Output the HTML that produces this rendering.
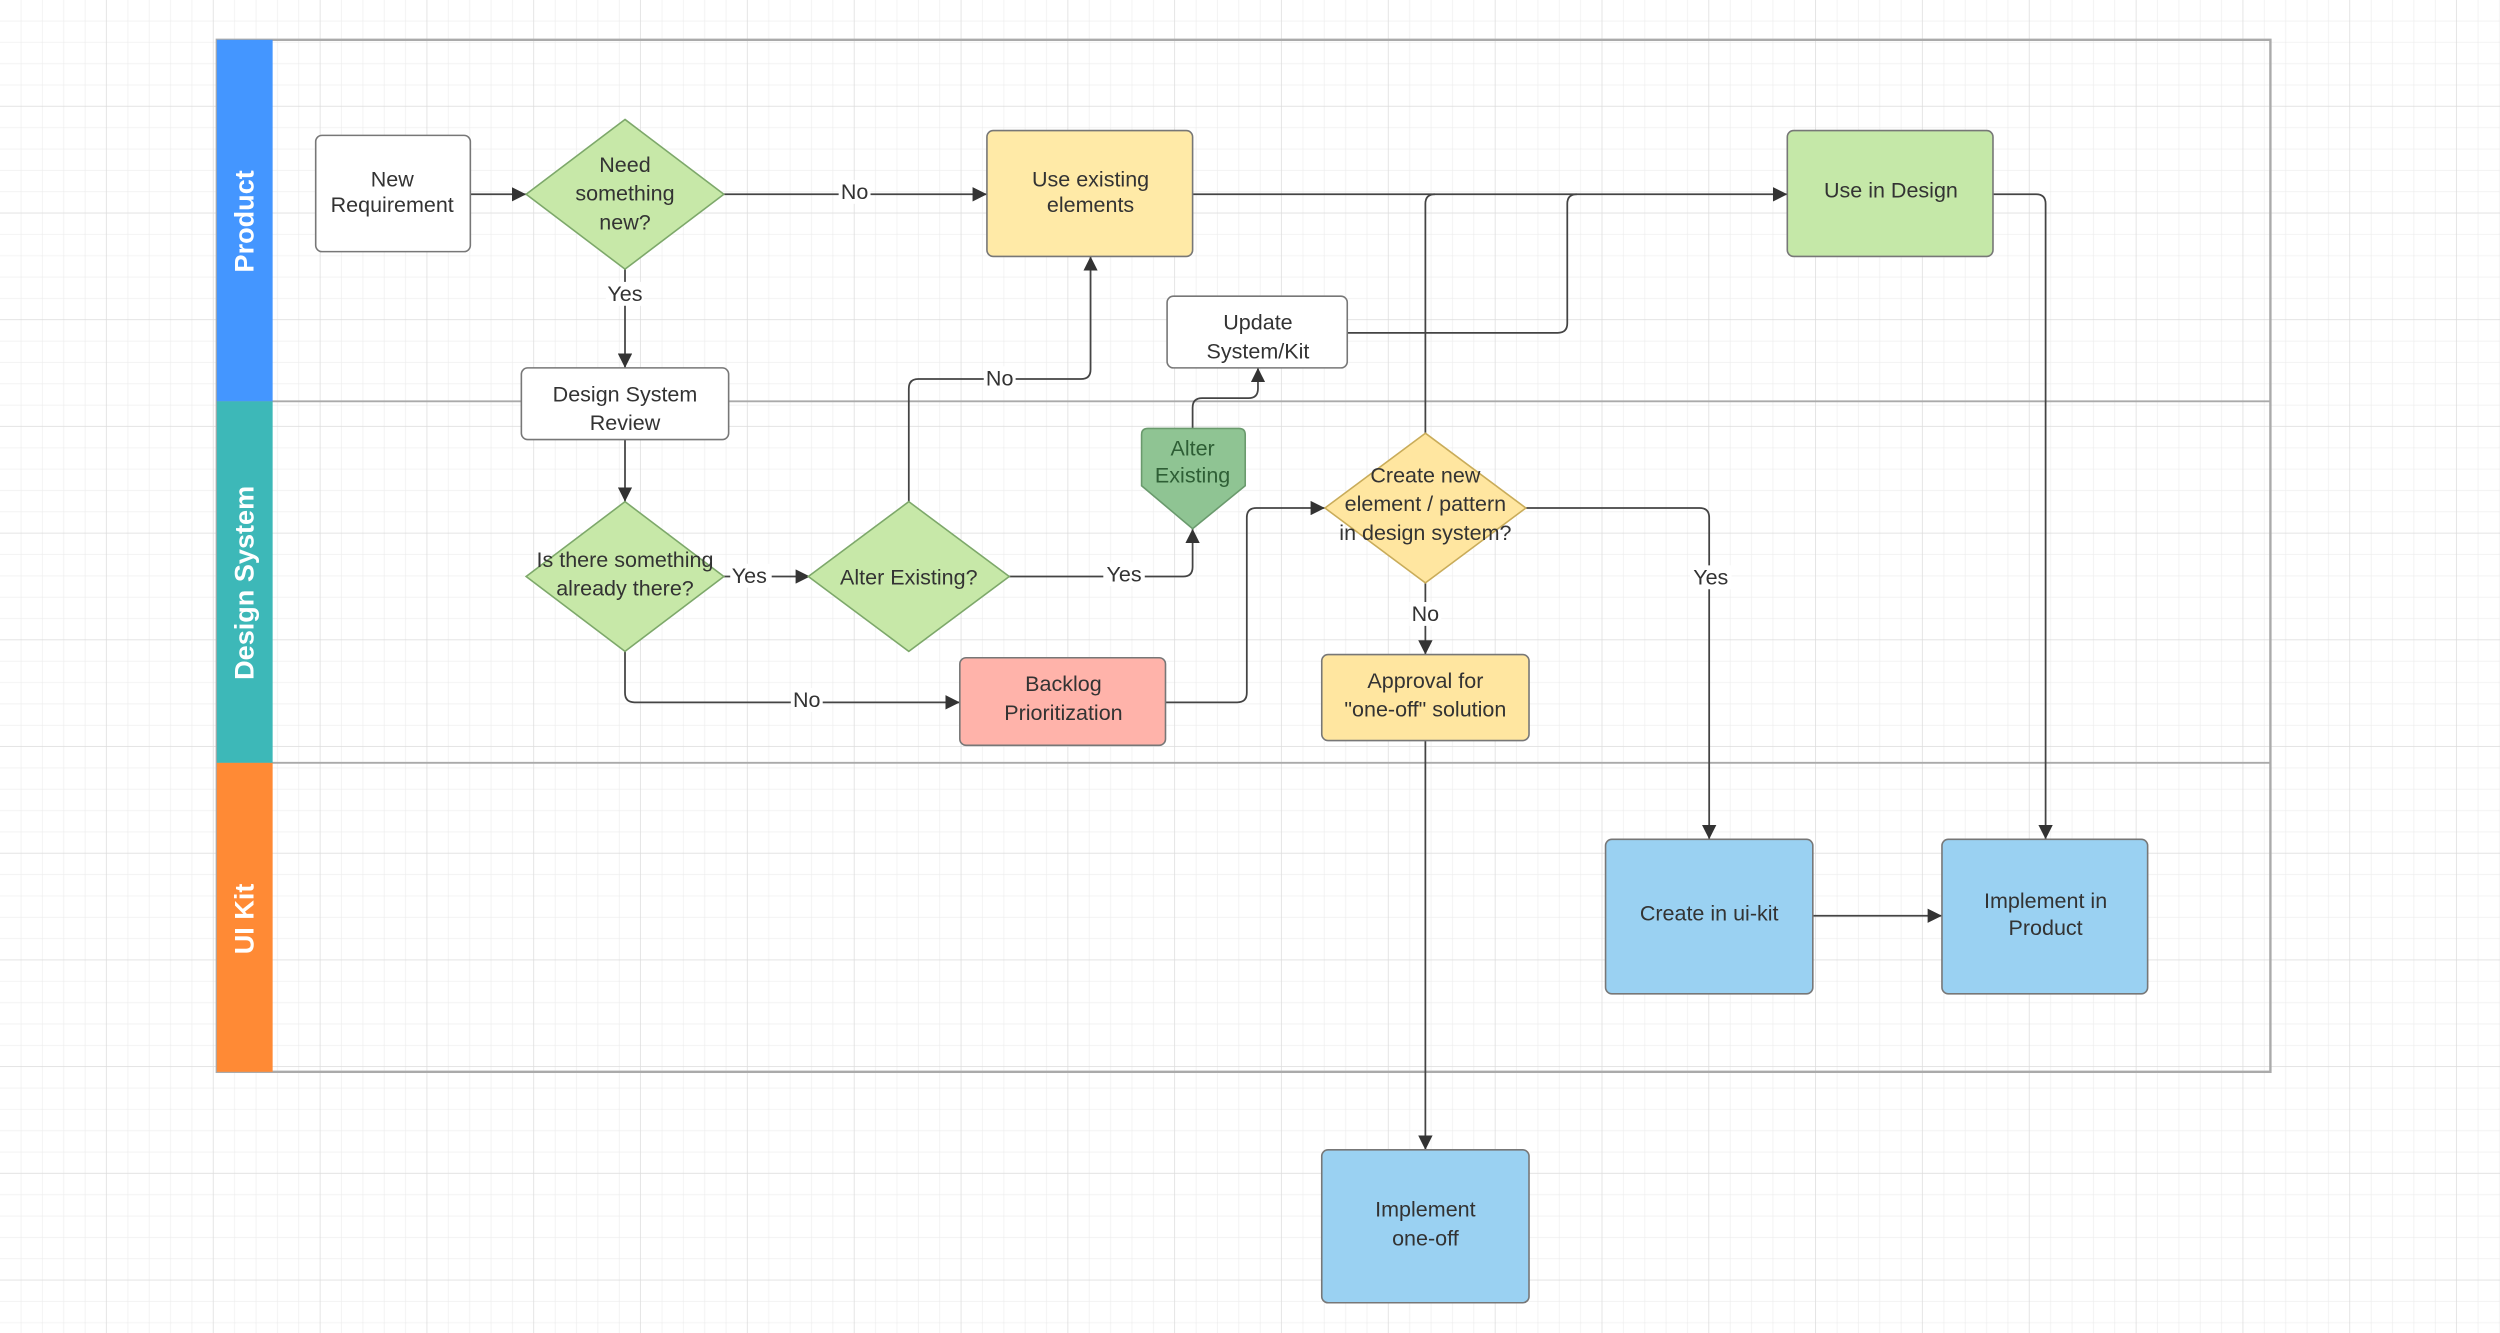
<!DOCTYPE html>
<html><head><meta charset="utf-8"><style>
html,body{margin:0;padding:0;background:#fff;}
svg{display:block}
text{font-family:"Liberation Sans",sans-serif;fill:#333;font-size:13.5px;text-anchor:middle}
.l{fill:none;stroke:#444;stroke-width:1.1}
.lb{font-size:13px;}
</style></head><body>
<svg width="2500" height="1333" viewBox="0 0 1568 837" preserveAspectRatio="none" xmlns="http://www.w3.org/2000/svg">
<defs>
<pattern id="g" width="13.4" height="13.4" patternUnits="userSpaceOnUse"><path d="M13.4 0V13.4H0" fill="none" stroke="#ececec" stroke-width="0.8"/></pattern>
<pattern id="G" width="67" height="67" patternUnits="userSpaceOnUse"><rect width="67" height="67" fill="url(#g)"/><path d="M67 0V67H0" fill="none" stroke="#dcdcdc" stroke-width="0.9"/></pattern>
<marker id="a" viewBox="0 0 10 10" refX="10" refY="5" markerWidth="9" markerHeight="9" orient="auto" markerUnits="userSpaceOnUse"><path d="M0 0L10 5L0 10z" fill="#333"/></marker>
</defs>
<rect width="1568" height="837" fill="url(#G)"/>
<!-- frame -->
<rect x="136" y="25" width="1288" height="648" fill="none" stroke="#aaa" stroke-width="1.5"/>
<line x1="136" y1="252" x2="1424" y2="252" stroke="#aaa" stroke-width="1.2"/>
<line x1="136" y1="479" x2="1424" y2="479" stroke="#aaa" stroke-width="1.2"/>
<rect x="136" y="25" width="35" height="227" fill="#4496ff"/>
<rect x="136" y="252" width="35" height="227" fill="#3db8b8"/>
<rect x="136" y="479" width="35" height="194" fill="#ff8a35"/>
<g style="font-weight:bold;font-size:17px">
<text transform="translate(159,139) rotate(-90)" style="fill:#fff;font-weight:bold;font-size:17px">Product</text>
<text transform="translate(159,366) rotate(-90)" style="fill:#fff;font-weight:bold;font-size:17px">Design System</text>
<text transform="translate(159,577) rotate(-90)" style="fill:#fff;font-weight:bold;font-size:17px">UI Kit</text>
</g>
<!-- connectors -->
<path class="l" d="M295 122H330" marker-end="url(#a)"/>
<path class="l" d="M454 122H619" marker-end="url(#a)"/>
<path class="l" d="M392 169V231" marker-end="url(#a)"/>
<path class="l" d="M392 276V315" marker-end="url(#a)"/>
<path class="l" d="M454 362H508" marker-end="url(#a)"/>
<path class="l" d="M392 409V435Q392 441 398 441H602" marker-end="url(#a)"/>
<path class="l" d="M570 315V244Q570 238 576 238H678Q684 238 684 232V161" marker-end="url(#a)"/>
<path class="l" d="M633 362H742Q748 362 748 356V332" marker-end="url(#a)"/>
<path class="l" d="M748 269V256Q748 250 754 250H783Q789 250 789 244V231" marker-end="url(#a)"/>
<path class="l" d="M845 209H977Q983 209 983 203V128Q983 122 989 122"/>
<path class="l" d="M748 122H1121" marker-end="url(#a)"/>
<path class="l" d="M894 272V128Q894 122 900 122"/>
<path class="l" d="M731 441H776Q782 441 782 435V325Q782 319 788 319H831" marker-end="url(#a)"/>
<path class="l" d="M957 319H1066Q1072 319 1072 325V527" marker-end="url(#a)"/>
<path class="l" d="M894 366V411" marker-end="url(#a)"/>
<path class="l" d="M894 465V722" marker-end="url(#a)"/>
<path class="l" d="M1137 575H1218" marker-end="url(#a)"/>
<path class="l" d="M1250 122H1277Q1283 122 1283 128V527" marker-end="url(#a)"/>
<!-- labels on lines -->
<g class="lb">
<rect x="526" y="113" width="20" height="15" fill="#fff"/><text x="536" y="125">No</text>
<rect x="380" y="177" width="24" height="15" fill="#fff"/><text x="392" y="189">Yes</text>
<rect x="458" y="354" width="26" height="15" fill="#fff"/><text x="470" y="366">Yes</text>
<rect x="496" y="432" width="20" height="15" fill="#fff"/><text x="506" y="444">No</text>
<rect x="617" y="230" width="20" height="15" fill="#fff"/><text x="627" y="242">No</text>
<rect x="692" y="353" width="26" height="15" fill="#fff"/><text x="705" y="365">Yes</text>
<rect x="1060" y="355" width="26" height="15" fill="#fff"/><text x="1073" y="367">Yes</text>
<rect x="884" y="378" width="20" height="15" fill="#fff"/><text x="894" y="390">No</text>
</g>
<!-- nodes -->
<g stroke="#777" stroke-width="1">
<rect x="198" y="85" width="97" height="73" rx="4" fill="#fff"/>
<path d="M392 75L454 122L392 169L330 122Z" fill="#c7e8a8" stroke="#7da86a"/>
<rect x="619" y="82" width="129" height="79" rx="4" fill="#ffeaa7"/>
<rect x="1121" y="82" width="129" height="79" rx="4" fill="#c5e8a8"/>
<rect x="732" y="186" width="113" height="45" rx="4" fill="#fff"/>
<rect x="327" y="231" width="130" height="45" rx="4" fill="#fff"/>
<path d="M392 315L454 362L392 409L330 362Z" fill="#c7e8a8" stroke="#7da86a"/>
<path d="M570 315L633 362L570 409L507 362Z" fill="#c7e8a8" stroke="#7da86a"/>
<path d="M720 269H777Q781 269 781 273V305L748 332L716 305V273Q716 269 720 269Z" fill="#8fc493" stroke="#6a9a6d"/>
<path d="M894 272L957 319L894 366L831 319Z" fill="#ffe6a0" stroke="#c9ac5a"/>
<rect x="602" y="413" width="129" height="55" rx="4" fill="#ffb3aa"/>
<rect x="829" y="411" width="130" height="54" rx="4" fill="#ffe6a0"/>
<rect x="1007" y="527" width="130" height="97" rx="4" fill="#9ad1f2"/>
<rect x="1218" y="527" width="129" height="97" rx="4" fill="#9ad1f2"/>
<rect x="829" y="722" width="130" height="96" rx="4" fill="#9ad1f2"/>
</g>
<!-- node text -->
<text x="246" y="117">New</text><text x="246" y="133">Requirement</text>
<text x="392" y="108">Need</text><text x="392" y="126">something</text><text x="392" y="144">new?</text>
<text x="684" y="117">Use existing</text><text x="684" y="133">elements</text>
<text x="1186" y="124">Use in Design</text>
<text x="789" y="207">Update</text><text x="789" y="225">System/Kit</text>
<text x="392" y="252">Design System</text><text x="392" y="270">Review</text>
<text x="392" y="356">Is there something</text><text x="392" y="374">already there?</text>
<text x="570" y="367">Alter Existing?</text>
<text x="748" y="286" style="fill:#2e5e35">Alter</text><text x="748" y="303" style="fill:#2e5e35">Existing</text>
<text x="894" y="303">Create new</text><text x="894" y="321">element / pattern</text><text x="894" y="339">in design system?</text>
<text x="667" y="434">Backlog</text><text x="667" y="452">Prioritization</text>
<text x="894" y="432">Approval for</text><text x="894" y="450">"one-off" solution</text>
<text x="1072" y="578">Create in ui-kit</text>
<text x="1283" y="570">Implement in</text><text x="1283" y="587">Product</text>
<text x="894" y="764">Implement</text><text x="894" y="782">one-off</text>
</svg>
</body></html>
